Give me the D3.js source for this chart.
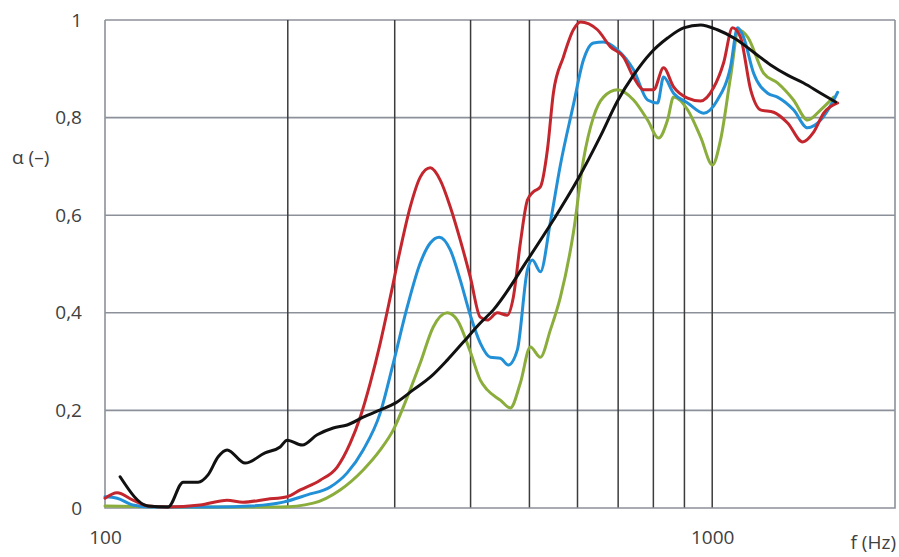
<!DOCTYPE html>
<html>
<head>
<meta charset="utf-8">
<script src="https://cdn.jsdelivr.net/npm/d3@7"></script>
<style>
  html, body { margin: 0; padding: 0; background: #fff; }
  svg text { font-family: "Open Sans", "DejaVu Sans", sans-serif; fill: #404040; }
</style>
</head>
<body>
<svg id="chart" width="899" height="557"></svg>
<script>
// Absorption coefficient α vs frequency (Hz), four measured samples
const yTicks = [0, 0.2, 0.4, 0.6, 0.8, 1];
const yTickLabels = ["0", "0,2", "0,4", "0,6", "0,8", "1"];
const xGrid = [200, 300, 400, 500, 600, 700, 800, 900, 1000];
const xTickValues = [100, 1000];
const xTickLabels = ["100", "1000"];

const blackF = [105.9, 117.7, 127, 134.5, 142.3, 147.8, 153.6, 158.9, 170.1, 183.5, 194.3, 199.5, 211.3, 223.6, 237.6, 250.5, 266.2, 284, 300.6, 321.8, 343.3, 366.1, 389.2, 415, 436.1, 496.2, 547.5, 599.8, 654.6, 698.3, 742.1, 791.5, 844.2, 897.1, 957, 1020, 1093, 1170, 1248, 1331, 1414, 1509, 1597];
const blackA = [0.064, 0.004, 0.002, 0.053, 0.053, 0.068, 0.105, 0.119, 0.092, 0.113, 0.125, 0.139, 0.129, 0.150, 0.164, 0.170, 0.186, 0.201, 0.215, 0.242, 0.268, 0.303, 0.340, 0.379, 0.406, 0.508, 0.590, 0.672, 0.762, 0.834, 0.887, 0.932, 0.963, 0.984, 0.990, 0.980, 0.961, 0.934, 0.908, 0.887, 0.871, 0.850, 0.832];

const redF = [100, 104.7, 111.2, 117.7, 126.5, 143.4, 158.9, 168.8, 184.9, 199.5, 209.7, 226.1, 241.2, 253.4, 263.2, 273.4, 284, 295, 306.3, 318.2, 330.5, 343.3, 356.5, 370.4, 384.7, 399.6, 415, 426.2, 442.7, 459.8, 470.4, 483.1, 496.2, 507.6, 521.2, 535.3, 547.5, 568.7, 590.7, 606.6, 647.1, 680, 714.5, 742.1, 770.8, 800.6, 831.5, 863.7, 910.8, 957, 1005, 1044, 1080, 1113, 1157, 1201, 1262, 1331, 1409, 1469, 1526, 1609];
const redA = [0.020, 0.031, 0.016, 0.004, 0.002, 0.006, 0.016, 0.012, 0.018, 0.023, 0.037, 0.057, 0.084, 0.133, 0.186, 0.256, 0.338, 0.432, 0.529, 0.617, 0.678, 0.697, 0.672, 0.617, 0.549, 0.473, 0.391, 0.385, 0.400, 0.395, 0.432, 0.543, 0.631, 0.648, 0.658, 0.734, 0.850, 0.924, 0.980, 0.996, 0.980, 0.945, 0.924, 0.883, 0.857, 0.857, 0.902, 0.863, 0.840, 0.834, 0.861, 0.912, 0.984, 0.965, 0.857, 0.816, 0.811, 0.789, 0.750, 0.770, 0.809, 0.830];

const blueF = [100, 104.7, 111.2, 118.6, 152.9, 173.4, 196.6, 215.3, 234.9, 250.5, 266.2, 284, 298.4, 314.6, 330.5, 343.3, 355.2, 370.4, 384.7, 399.6, 415, 431.1, 447.8, 461.5, 477.6, 496.2, 505.7, 521.2, 541.4, 562.3, 590.7, 613.6, 637.4, 662.1, 698.3, 742.1, 782.6, 812.8, 831.5, 863.7, 910.8, 968.1, 1020, 1072, 1101, 1126, 1170, 1234, 1281, 1361, 1436, 1509, 1585, 1609];
const blueA = [0.023, 0.020, 0.006, 0.002, 0.002, 0.004, 0.012, 0.027, 0.043, 0.072, 0.119, 0.195, 0.297, 0.412, 0.502, 0.543, 0.555, 0.529, 0.467, 0.395, 0.338, 0.309, 0.307, 0.293, 0.324, 0.488, 0.508, 0.484, 0.586, 0.703, 0.826, 0.918, 0.953, 0.955, 0.939, 0.898, 0.836, 0.830, 0.883, 0.850, 0.830, 0.809, 0.836, 0.904, 0.984, 0.965, 0.891, 0.850, 0.842, 0.816, 0.779, 0.795, 0.836, 0.852];

const greenF = [100, 143.4, 194.3, 220.2, 243.9, 266.2, 284, 298.4, 314.6, 330.5, 347.2, 366.1, 380.4, 399.6, 415, 426.2, 447.8, 465.1, 483.1, 501.8, 521.2, 541.4, 562.3, 590.7, 613.6, 637.4, 662.1, 698.3, 742.1, 782.6, 815.9, 844.2, 863.7, 910.8, 957, 1001, 1032, 1072, 1105, 1144, 1215, 1281, 1361, 1436, 1509, 1585];
const greenA = [0.004, 0.002, 0.002, 0.010, 0.037, 0.078, 0.119, 0.160, 0.227, 0.297, 0.371, 0.400, 0.385, 0.320, 0.262, 0.242, 0.221, 0.205, 0.256, 0.330, 0.309, 0.365, 0.432, 0.564, 0.713, 0.801, 0.842, 0.857, 0.836, 0.795, 0.758, 0.795, 0.842, 0.816, 0.760, 0.703, 0.754, 0.883, 0.980, 0.965, 0.891, 0.871, 0.836, 0.795, 0.816, 0.842];

const series = [
  { f: greenF, a: greenA, color: "#8aad3c" },
  { f: blueF,  a: blueA,  color: "#2290d6" },
  { f: redF,   a: redA,   color: "#c4262e" },
  { f: blackF, a: blackA, color: "#111111" }
];

const svg = d3.select("#chart");
const margin = { left: 105, right: 4, top: 20, bottom: 49 };
const W = 899, H = 557;

const x = d3.scaleLog().domain([100, 2000]).range([margin.left, W - margin.right]);
const y = d3.scaleLinear().domain([0, 1]).range([H - margin.bottom, margin.top]);

// horizontal gridlines
svg.append("g").selectAll("line").data(yTicks.slice(1)).join("line")
  .attr("x1", x(100)).attr("x2", x(2000))
  .attr("y1", d => y(d)).attr("y2", d => y(d))
  .attr("stroke", "#8c9199").attr("stroke-width", 1.6);

// vertical gridlines
svg.append("g").selectAll("line").data(xGrid).join("line")
  .attr("x1", d => x(d)).attr("x2", d => x(d))
  .attr("y1", y(0)).attr("y2", y(1))
  .attr("stroke", "#3c3c3c").attr("stroke-width", 1.5);

// plot frame (left, bottom, right)
svg.append("path")
  .attr("d", `M${x(100)},${y(1)}V${y(0)}H${x(2000)}V${y(1)}`)
  .attr("fill", "none").attr("stroke", "#8c9199").attr("stroke-width", 1.6);

// y axis labels
const yAxis = d3.axisLeft(y).tickValues(yTicks).tickFormat((d, i) => yTickLabels[i]).tickSize(0).tickPadding(23);
const gy = svg.append("g").attr("transform", `translate(${x(100)},0)`).call(yAxis);
gy.select(".domain").remove();
gy.selectAll("text").attr("font-size", 19).style("font-family", '"Open Sans", sans-serif').attr("fill", "#404040");

// x axis labels
const xAxis = d3.axisBottom(x).tickValues(xTickValues).tickFormat((d, i) => xTickLabels[i]).tickSize(0).tickPadding(23);
const gx = svg.append("g").attr("transform", `translate(0,${y(0)})`).call(xAxis);
gx.select(".domain").remove();
gx.selectAll("text").attr("font-size", 19).style("font-family", '"Open Sans", sans-serif').attr("fill", "#404040");

// axis titles
svg.append("text").attr("x", 12).attr("y", 164).attr("font-size", 19).text("α (–)");
svg.append("text").attr("x", 896).attr("y", 549).attr("font-size", 19).attr("text-anchor", "end").text("f (Hz)");

// curves
const line = d3.line()
  .x(d => x(d[0]))
  .y(d => y(d[1]))
  .curve(d3.curveMonotoneX);

svg.append("g").selectAll("path").data(series).join("path")
  .attr("d", s => line(s.f.map((f, i) => [f, s.a[i]])))
  .attr("fill", "none")
  .attr("stroke", s => s.color)
  .attr("stroke-width", 3)
  .attr("stroke-linejoin", "round")
  .attr("stroke-linecap", "round");
</script>
</body>
</html>
